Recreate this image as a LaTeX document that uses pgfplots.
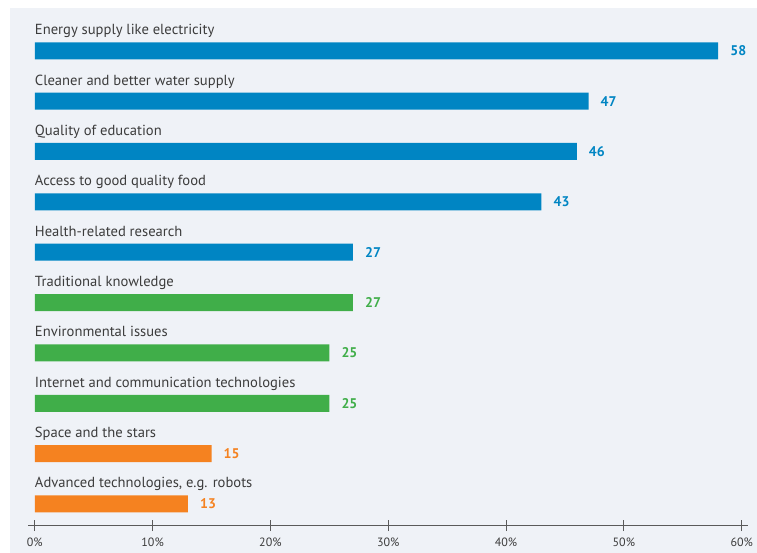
\documentclass[border=0pt]{standalone}
\usepackage{pgfplots}
\pgfplotsset{compat=1.18}
\usepackage{fontspec}
\setmainfont{PT Sans}
\definecolor{bgc}{RGB}{239,242,247}
\definecolor{cblue}{RGB}{0,133,195}
\definecolor{cgreen}{RGB}{64,174,73}
\definecolor{corange}{RGB}{245,130,32}
\definecolor{txtc}{RGB}{60,60,60}
\definecolor{axc}{RGB}{90,90,90}
\begin{document}
\begin{tikzpicture}[x=1pt,y=1pt]
\fill[bgc] (10,0) rectangle (757,545);
\begin{axis}[
  at={(28.3pt,27.3pt)}, anchor=south west, scale only axis,
  width=719.4pt, height=515.7pt,
  xmin=-0.55, xmax=60.51, ymin=-0.431, ymax=9.81,
  axis x line=bottom, axis y line=none,
  x axis line style={-, draw=axc, line width=0.9pt},
  xtick={0,10,20,30,40,50,60},
  xticklabel={\pgfmathprintnumber{\tick}\%},
  /pgf/number format/assume math mode=true,
  xticklabel style={font=\fontsize{12}{12}\selectfont, text=txtc, yshift=-3pt},
  tick align=center, major tick length=11pt,
  every tick/.style={draw=axc, line width=0.9pt},
  ytick=\empty,
  xbar, bar width=17pt, bar shift=0pt,
  clip=false,
  nodes near coords,
  nodes near coords style={anchor=west, inner sep=0pt, xshift=12pt, font=\bfseries\fontsize{14}{14}\selectfont},
]
\addplot[fill=cblue, draw=none, nodes near coords style={text=cblue}] coordinates {(58,9) (47,8) (46,7) (43,6) (27,5)};
\addplot[fill=cgreen, draw=none, nodes near coords style={text=cgreen}] coordinates {(27,4) (25,3) (25,2)};
\addplot[fill=corange, draw=none, nodes near coords style={text=corange}] coordinates {(15,1) (13,0)};
\begin{scope}[every node/.style={anchor=base west, inner sep=0pt, text=txtc, font=\fontsize{14.6}{15}\selectfont, yshift=16pt}]
\node at (axis cs:0,9) {Energy supply like electricity};
\node at (axis cs:0,8) {Cleaner and better water supply};
\node at (axis cs:0,7) {Quality of education};
\node at (axis cs:0,6) {Access to good quality food};
\node at (axis cs:0,5) {Health-related research};
\node at (axis cs:0,4) {Traditional knowledge};
\node at (axis cs:0,3) {Environmental issues};
\node at (axis cs:0,2) {Internet and communication technologies};
\node at (axis cs:0,1) {Space and the stars};
\node at (axis cs:0,0) {Advanced technologies, e.g. robots};
\end{scope}
\end{axis}
\pgfresetboundingbox
\path[use as bounding box] (0,0) rectangle (757,553);
\end{tikzpicture}
\end{document}
